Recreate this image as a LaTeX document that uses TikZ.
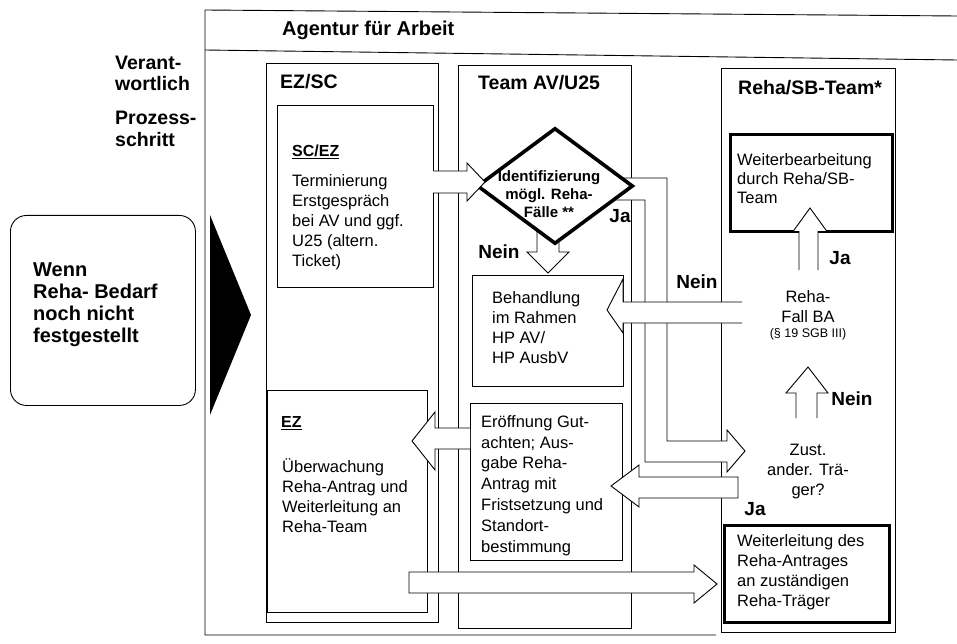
\documentclass[tikz,border=0pt]{standalone}
\usepackage{fontspec}
\setmainfont{Liberation Sans}
\usetikzlibrary{shapes.geometric}
\tikzset{
  frameline/.style={line width=0.9pt},
  col/.style={draw, line width=0.9pt, inner sep=0pt, anchor=north west},
  box/.style={draw, line width=0.9pt, fill=white, inner sep=0pt, anchor=north west},
  thickbox/.style={draw, line width=2.8pt, fill=white, inner sep=0pt, anchor=north west},
  barrow/.style={draw, fill=white, line width=0.9pt, line join=miter},
  txt/.style={inner sep=0pt, align=left, anchor=west, font=\fontsize{16.5}{20}\selectfont},
  ctxt/.style={inner sep=0pt, align=center, font=\fontsize{16.5}{20}\selectfont},
  hdr/.style={inner sep=0pt, anchor=west, font=\bfseries\fontsize{19.5}{21}\selectfont},
  lbl/.style={inner sep=0pt, font=\bfseries\fontsize{19}{21}\selectfont},
  sub/.style={inner sep=0pt, anchor=west, font=\bfseries\fontsize{16}{20}\selectfont},
}
\begin{document}
\begin{tikzpicture}[x=1pt,y=-1pt]
\useasboundingbox (0,0) rectangle (957,644);
% outer frame
\coordinate (ftr) at (957,16);
\coordinate (ftl) at (205,10);
\coordinate (fbl) at (205,635);
\coordinate (fbr) at (716,635);
\coordinate (fsl) at (205,50);
\coordinate (fsr) at (957,60);
\draw[frameline] (ftr) -- (ftl) -- (fbl) -- (fbr);
\draw[frameline] (fsl) -- (fsr);
\node[inner sep=0pt, anchor=west, font=\bfseries\fontsize{20}{22}\selectfont] (agentur) at (282,30) {Agentur für Arbeit};
% left labels
\node[inner sep=0pt, anchor=west, align=left, font=\bfseries\fontsize{19.5}{21}\selectfont] (verant) at (115,73) {Verant-\\wortlich};
\node[inner sep=0pt, anchor=west, align=left, font=\bfseries\fontsize{19.5}{22}\selectfont] (prozess) at (115,129) {Prozess-\\schritt};
% Wenn box
\node[draw, line width=0.9pt, rounded corners=16pt, minimum width=185pt, minimum height=190pt, inner sep=0pt, anchor=north west] (wenn) at (10,215) {};
\node[inner sep=0pt, anchor=west, align=left, font=\bfseries\fontsize{20}{22}\selectfont] (wennt) at (33,305) {Wenn\\Reha- Bedarf\\noch nicht\\festgestellt};
% black triangle
\coordinate (tra) at (210,215);
\coordinate (trb) at (251,315);
\coordinate (trc) at (210,415);
\fill (tra) -- (trb) -- (trc) -- cycle;
% columns
\node[col, minimum width=172pt, minimum height=559pt] (colez) at (266,63) {};
\node[col, minimum width=173pt, minimum height=563pt] (colteam) at (458,65) {};
\node[col, minimum width=174pt, minimum height=564pt] (colreha) at (721,68) {};
\node[hdr] (tez) at (280,82) {EZ/SC};
\node[hdr] (tteam) at (478,83) {Team AV/U25};
\node[hdr] (treha) at (738,88) {Reha/SB-Team*};
% boxes
\node[box, minimum width=156pt, minimum height=182pt] (scbox) at (277,105) {};
\node[box, minimum width=160pt, minimum height=222pt] (ezbox) at (267,390) {};
\node[box, minimum width=151pt, minimum height=111pt] (behbox) at (472,275) {};
\node[box, minimum width=152pt, minimum height=157pt] (eroebox) at (470,403) {};
\node[thickbox, minimum width=162pt, minimum height=97pt] (wbbox) at (729,133) {};
\node[thickbox, minimum width=165pt, minimum height=97pt] (wlbox) at (723,524) {};
% L-shaped Ja arrow and down arrow (behind diamond)
\draw[barrow] (610,178) -- (667,178) -- (667,441) -- (727,441) -- (727,430) -- (745,451) -- (727,472) -- (727,462) -- (645,462) -- (645,200) -- (610,200);
\draw[barrow] (537,228) -- (537,252) -- (527,252) -- (548,273) -- (569,252) -- (559,252) -- (559,228);
% diamond
\node[diamond, draw, line width=3.6pt, fill=white, inner sep=0pt, minimum width=156pt, minimum height=116pt] (dia) at (555,186) {};
% other block arrows
\draw[barrow] (433,171) -- (467,171) -- (467,163) -- (485,182) -- (467,201) -- (467,193) -- (433,193);
\draw[barrow] (742,302) -- (623,302) -- (623,279) -- (607,310) -- (623,333) -- (623,323) -- (742,323);
\draw[barrow] (799,270) -- (799,231.5) -- (793,231.5) -- (810,208) -- (827,231.5) -- (818,231.5) -- (818,270);
\draw[barrow] (796,418) -- (796,393) -- (786,393) -- (808,367) -- (828,393) -- (817,393) -- (817,418);
\draw[barrow] (738,477) -- (639,477) -- (639,465) -- (611,486) -- (639,507) -- (639,498) -- (738,498) -- cycle;
\draw[barrow] (470,428) -- (435,428) -- (435,412) -- (412,441) -- (435,470) -- (435,449) -- (470,449);
\draw[barrow] (409,572) -- (694,572) -- (694,565) -- (717,584) -- (694,603) -- (694,593) -- (409,593) -- cycle;
% texts in boxes
\node[sub] (sctitle) at (292,152) {\underline{SC/EZ}};
\node[txt] (sct) at (292,222) {Terminierung\\Erstgespräch\\bei AV und ggf.\\U25 (altern.\\Ticket)};
\node[sub] (eztitle) at (281,423) {\underline{EZ}};
\node[txt] (ezt) at (282,496) {Überwachung\\Reha-Antrag und\\Weiterleitung an\\Reha-Team};
\node[txt] (beht) at (492,328) {Behandlung\\im Rahmen\\HP AV/\\HP AusbV};
\node[txt, font=\fontsize{16.5}{20.8}\selectfont] (eroet) at (481,485.5) {Eröffnung Gut-\\achten; Aus-\\gabe Reha-\\Antrag mit\\Fristsetzung und\\Standort-\\bestimmung};
\node[txt, font=\fontsize{16.5}{19}\selectfont] (wbt) at (737,179) {Weiterbearbeitung\\durch Reha/SB-\\Team};
\node[txt] (wlt) at (737,572) {Weiterleitung des\\Reha-Antrages\\an zuständigen\\Reha-Träger};
\node[inner sep=0pt, align=center, font=\bfseries\fontsize{15}{18}\selectfont] (diat) at (549,194) {Identifizierung\\mögl. Reha-\\Fälle **};
\node[ctxt] (rft) at (808,307) {Reha-\\Fall BA};
\node[inner sep=0pt, font=\fontsize{12.5}{14}\selectfont] (rfs) at (808,334) {(§ 19 SGB III)};
\node[ctxt] (zt) at (808,472) {Zust.\\ander. Trä-\\ger?};
% labels
\node[lbl] (ja1) at (620,216) {Ja};
\node[lbl] (nein1) at (499,252) {Nein};
\node[lbl] (nein2) at (697,282) {Nein};
\node[lbl] (ja2) at (840,258) {Ja};
\node[lbl] (nein3) at (852,399) {Nein};
\node[lbl] (ja3) at (755,509) {Ja};
\end{tikzpicture}
\end{document}
